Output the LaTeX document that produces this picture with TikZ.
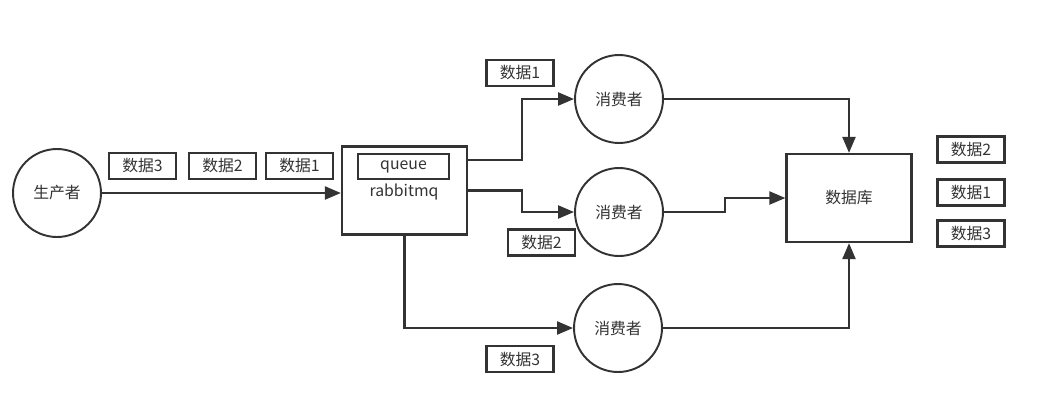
\documentclass[tikz,border=0pt]{standalone}
\usepackage{fontspec}
\setmainfont{Noto Sans CJK SC}
\usepackage{tikz}
\usetikzlibrary{calc}
\usetikzlibrary{arrows.meta}
\definecolor{inkgray}{HTML}{333333}

\begin{document}
\begin{tikzpicture}[x=0.02cm,y=-0.02cm,
        every node/.style={text=inkgray,font=\fontsize{9}{11}\selectfont},
        role/.style={draw=inkgray,circle,line width=1.1pt,minimum size=1.76cm,inner sep=0pt},
        store/.style={draw=inkgray,line width=1.3pt,minimum width=2.5cm,minimum height=1.76cm},
        tag/.style={draw=inkgray,line width=1.3pt,minimum width=1.34cm,minimum height=0.52cm,inner sep=0pt},
        flow/.style={draw=inkgray,line width=1.3pt,-{Triangle[length=0.32cm,width=0.26cm]}}]
            \useasboundingbox (0,0) rectangle (1058,403);
            
            \node[role] (prod) at (57,193) {生产者};
            \node[store] (mq) at (404.5,190.5) {};
            \node[draw=inkgray,line width=1.3pt,minimum width=1.82cm,minimum height=0.5cm,inner sep=0pt] (queue) at (403.5,166.5) {queue};
            \node (mqname) at (404,192) {rabbitmq};
            
            \node[role] (c1) at (619,99) {消费者};
            \node[role] (c2) at (619,212) {消费者};
            \node[role] (c3) at (618,328) {消费者};
            
            \node[store] (db) at (849,198) {数据库};
            
            \node[tag] (p3) at (142.5,166) {数据3};
            \node[tag] (p2) at (222.5,166) {数据2};
            \node[tag] (p1) at (299.5,166) {数据1};
            
            \node[tag] (t1) at (520,73) {数据1};
            \node[tag] (t2) at (541.5,242.5) {数据2};
            \node[tag] (t3) at (520,359) {数据3};
            
            \node[tag] (d2) at (971,149.5) {数据2};
            \node[tag] (d1) at (971,192.5) {数据1};
            \node[tag] (d3) at (971,233.5) {数据3};
            
            \draw[flow] (prod) -- (prod -| mq.west);
            \draw[flow] ([yshift=0.61cm]mq.east) -- ++(54,0) |- (c1);
            \draw[flow] (mq.east) -- ++(54,0) |- (c2);
            \draw[flow] (mq.south) |- (c3);
            
            \draw[flow] (c1) -| (db);
            \draw[flow] (c2.east) -- ++(61,0) |- (db.west);
            \draw[flow] (c3) -| (db);
        \end{tikzpicture}
\end{document}
